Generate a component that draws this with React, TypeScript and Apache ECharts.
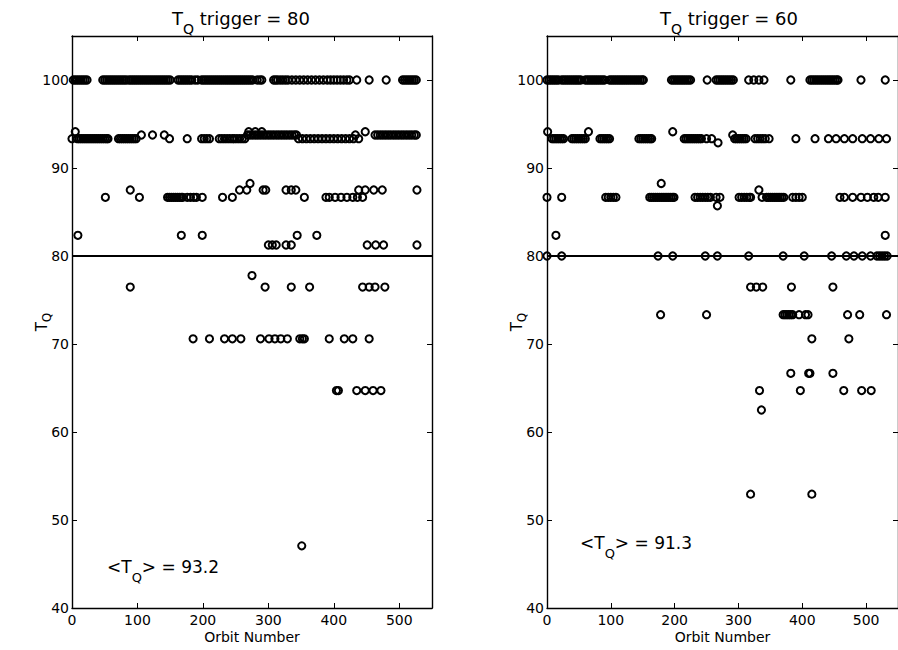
import React, { useEffect, useRef } from "react";
import * as echarts from "echarts";

// ---------- Panel A: T_Q trigger = 80 (orbit numbers at each T_Q level) ----------
const a100 = [2, 5, 8, 11, 14, 17, 20, 23, 47, 50, 53, 56, 59, 62, 65, 68, 71, 74, 77, 80, 83, 87, 90, 93, 96, 99, 102, 105, 108, 111, 114, 117, 120, 123, 126, 129, 132, 135, 138, 141, 144, 147, 150, 162, 165, 168, 171, 174, 177, 180, 183, 188, 192, 198, 201, 204, 207, 210, 213, 216, 219, 222, 225, 228, 231, 234, 237, 240, 243, 246, 249, 252, 255, 258, 261, 264, 267, 270, 273, 276, 283, 287, 290, 308, 311, 314, 318, 322, 326, 330, 336, 342, 348, 354, 360, 366, 372, 378, 384, 390, 395, 400, 405, 410, 415, 420, 424, 435, 454, 480, 505, 508, 511, 514, 517, 520, 523, 526];
const a9412 = [5, 270, 280, 290, 448];
const a9375 = [106, 123, 141, 268, 272, 276, 280, 284, 288, 292, 296, 300, 304, 308, 312, 316, 320, 324, 328, 332, 336, 340, 343, 433, 463, 467, 471, 475, 479, 483, 487, 491, 495, 499, 503, 507, 511, 515, 519, 523, 526];
const a9333 = [0, 8, 11, 14, 17, 20, 23, 26, 29, 32, 35, 38, 41, 44, 47, 50, 53, 55, 71, 74, 77, 80, 83, 86, 89, 92, 95, 98, 149, 176, 198, 202, 206, 210, 225, 229, 233, 237, 241, 245, 248, 252, 256, 260, 264, 346, 352, 358, 364, 370, 376, 382, 388, 394, 400, 406, 412, 418, 424, 430, 438];
const a8824 = [272];
const a8750 = [89, 256, 267, 292, 296, 327, 335, 342, 438, 448, 461, 474, 527];
const a8667 = [51, 103, 146, 149, 152, 155, 158, 161, 164, 167, 169, 176, 181, 186, 190, 199, 230, 245, 355, 388, 393, 402, 411, 420, 429, 436, 444];
const a8235 = [9, 167, 199, 344, 374];
const a8125 = [300, 306, 312, 327, 335, 451, 464, 476, 527];
const a7778 = [275];
const a7647 = [89, 295, 335, 363, 444, 454, 463, 478];
const a7059 = [185, 210, 233, 245, 258, 288, 301, 310, 319, 329, 348, 352, 355, 393, 416, 429, 454];
const a6471 = [404, 407, 435, 448, 460, 472];
const a4706 = [351];

// ---------- Panel B: T_Q trigger = 60 ----------
const b100 = [0, 3, 6, 9, 12, 15, 18, 23, 26, 29, 32, 35, 38, 41, 44, 47, 50, 53, 60, 63, 66, 69, 72, 75, 78, 81, 84, 87, 90, 98, 101, 104, 107, 110, 113, 116, 119, 122, 125, 128, 131, 134, 137, 140, 143, 146, 149, 151, 195, 198, 201, 204, 207, 210, 213, 216, 219, 222, 225, 251, 265, 268, 271, 274, 277, 280, 283, 286, 289, 292, 316, 324, 332, 340, 382, 412, 415, 418, 421, 424, 427, 430, 433, 436, 439, 442, 445, 448, 451, 454, 456, 492, 530];
const b9412 = [1, 65, 197];
const b9375 = [291];
const b9333 = [8, 11, 14, 17, 20, 23, 26, 39, 42, 45, 48, 51, 54, 57, 60, 83, 86, 89, 92, 95, 98, 144, 147, 150, 153, 156, 159, 162, 164, 215, 218, 221, 224, 227, 230, 233, 236, 239, 242, 250, 258, 294, 297, 300, 303, 306, 309, 312, 326, 330, 334, 338, 342, 348, 390, 420, 441, 453, 466, 479, 494, 507, 520, 532];
const b9286 = [268];
const b8824 = [179];
const b8750 = [332];
const b8667 = [0, 23, 92, 96, 100, 104, 108, 161, 164, 167, 170, 173, 176, 179, 182, 185, 188, 191, 194, 197, 199, 232, 236, 240, 244, 248, 252, 256, 265, 271, 301, 305, 309, 313, 317, 319, 337, 344, 347, 350, 353, 356, 359, 362, 365, 368, 371, 385, 390, 395, 400, 459, 466, 479, 492, 502, 512, 519, 530];
const b8571 = [267];
const b8235 = [14, 530];
const b8000 = [0, 23, 174, 197, 248, 267, 316, 370, 403, 446, 469, 481, 494, 507, 517, 521, 525, 529, 533];
const b7647 = [319, 328, 338, 383, 448];
const b7333 = [178, 250, 370, 373, 376, 379, 382, 385, 395, 405, 409, 471, 490, 532];
const b7059 = [415, 473];
const b6667 = [382, 410, 412, 448];
const b6471 = [333, 397, 465, 493, 508];
const b6250 = [336];
const b5294 = [319, 415];

const panelA: [number, number[]][] = [
  [100, a100], [94.12, a9412], [93.75, a9375], [93.33, a9333], [88.24, a8824],
  [87.5, a8750], [86.67, a8667], [82.35, a8235], [81.25, a8125], [77.78, a7778],
  [76.47, a7647], [70.59, a7059], [64.71, a6471], [47.06, a4706],
];
const panelB: [number, number[]][] = [
  [100, b100], [94.12, b9412], [93.75, b9375], [93.33, b9333], [92.86, b9286],
  [88.24, b8824], [87.5, b8750], [86.67, b8667], [85.71, b8571], [82.35, b8235],
  [80, b8000], [76.47, b7647], [73.33, b7333], [70.59, b7059], [66.67, b6667],
  [64.71, b6471], [62.5, b6250], [52.94, b5294],
];

const triggers = ["80", "60"];
const means = ["93.2", "91.3"];
const xTicks = { min: 0, max: 550, interval: 100 };
const yTicks = { min: 40, max: 105, interval: 10 };

const FONT = "'DejaVu Sans', 'Liberation Sans', Arial, sans-serif";

const toPoints = (panel: [number, number[]][]) =>
  panel.flatMap(([tq, orbits]) => orbits.map((o) => [o, tq]));

const subRich = (size: number, drop: number) => ({
  t: { fontSize: size, fontFamily: FONT, fontWeight: "normal", color: "#000" },
  s: {
    fontSize: Math.round(size * 0.78),
    fontFamily: FONT,
    fontWeight: "normal",
    color: "#000",
    padding: [drop * 2, 0, 0, 0],
  },
});

export default function App() {
  const ref = useRef<HTMLDivElement>(null);
  useEffect(() => {
    if (!ref.current) return;
    const chart = echarts.init(ref.current, undefined, { renderer: "svg" });
    const grids = [
      { left: 72, top: 36, width: 360, height: 572 },
      { left: 547, top: 36, width: 361, height: 572 },
    ];
    const titleX = [241, 729];
    const axisLine = { show: true, onZero: false, lineStyle: { color: "#000", width: 1.4 } };
    const tick = { show: true, inside: true, length: 5, lineStyle: { color: "#000", width: 1 } };
    const xAxis: any[] = [];
    const yAxis: any[] = [];
    grids.forEach((_, i) => {
      xAxis.push({
        type: "value", gridIndex: i, ...xTicks, position: "bottom",
        axisLine, axisTick: tick, splitLine: { show: false },
        axisLabel: { color: "#000", fontSize: 14, fontFamily: FONT, margin: 5, showMaxLabel: false },
        name: "Orbit Number", nameLocation: "middle", nameGap: 22, nameMoveOverlap: false,
        nameTextStyle: { color: "#000", fontSize: 14, fontFamily: FONT },
      });
      xAxis.push({
        type: "value", gridIndex: i, ...xTicks, position: "top",
        axisLine, axisTick: tick, splitLine: { show: false }, axisLabel: { show: false },
      });
      yAxis.push({
        type: "value", gridIndex: i, ...yTicks, position: "left",
        axisLine, axisTick: tick, splitLine: { show: false },
        axisLabel: { color: "#000", fontSize: 14, fontFamily: FONT, margin: 3, showMaxLabel: false },
        name: "{t|T}{s|Q}", nameLocation: "middle", nameGap: 19, nameRotate: 90, nameMoveOverlap: false,
        nameTextStyle: { rich: subRich(15, 5) },
      });
      yAxis.push({
        type: "value", gridIndex: i, ...yTicks, position: "right",
        axisLine, axisTick: tick, splitLine: { show: false }, axisLabel: { show: false },
      });
    });
    const mkSeries = (panel: [number, number[]][], i: number) => ({
      type: "scatter",
      xAxisIndex: i * 2,
      yAxisIndex: i * 2,
      data: toPoints(panel),
      symbol: "circle",
      symbolSize: 7.2,
      itemStyle: { color: "rgba(255,255,255,0)", borderColor: "#000", borderWidth: 2, opacity: 1 },
      markLine: {
        silent: true,
        symbol: "none",
        label: { show: false },
        lineStyle: { color: "#000", width: 2, type: "solid" },
        data: [{ yAxis: 80 }],
      },
    });
    const graphic: any[] = [];
    triggers.forEach((t, i) => {
      graphic.push({
        type: "text", x: titleX[i], y: 18,
        style: { text: `{t|T}{s|Q}{t| trigger = ${t}}`, rich: subRich(18, 11), align: "center", verticalAlign: "middle" },
      });
    });
    graphic.push({
      type: "text", x: 107, y: 567,
      style: { text: `{t|<T}{s|Q}{t|> = ${means[0]}}`, rich: subRich(17, 10), align: "left", verticalAlign: "middle" },
    });
    graphic.push({
      type: "text", x: 580, y: 543,
      style: { text: `{t|<T}{s|Q}{t|> = ${means[1]}}`, rich: subRich(17, 10), align: "left", verticalAlign: "middle" },
    });
    chart.setOption({
      animation: false,
      backgroundColor: "#fff",
      grid: grids,
      xAxis,
      yAxis,
      series: [mkSeries(panelA, 0), mkSeries(panelB, 1)],
      graphic,
    });
    return () => chart.dispose();
  }, []);
  return <div ref={ref} style={{ position: "absolute", left: 0, top: 0, width: 898, height: 650 }} />;
}
